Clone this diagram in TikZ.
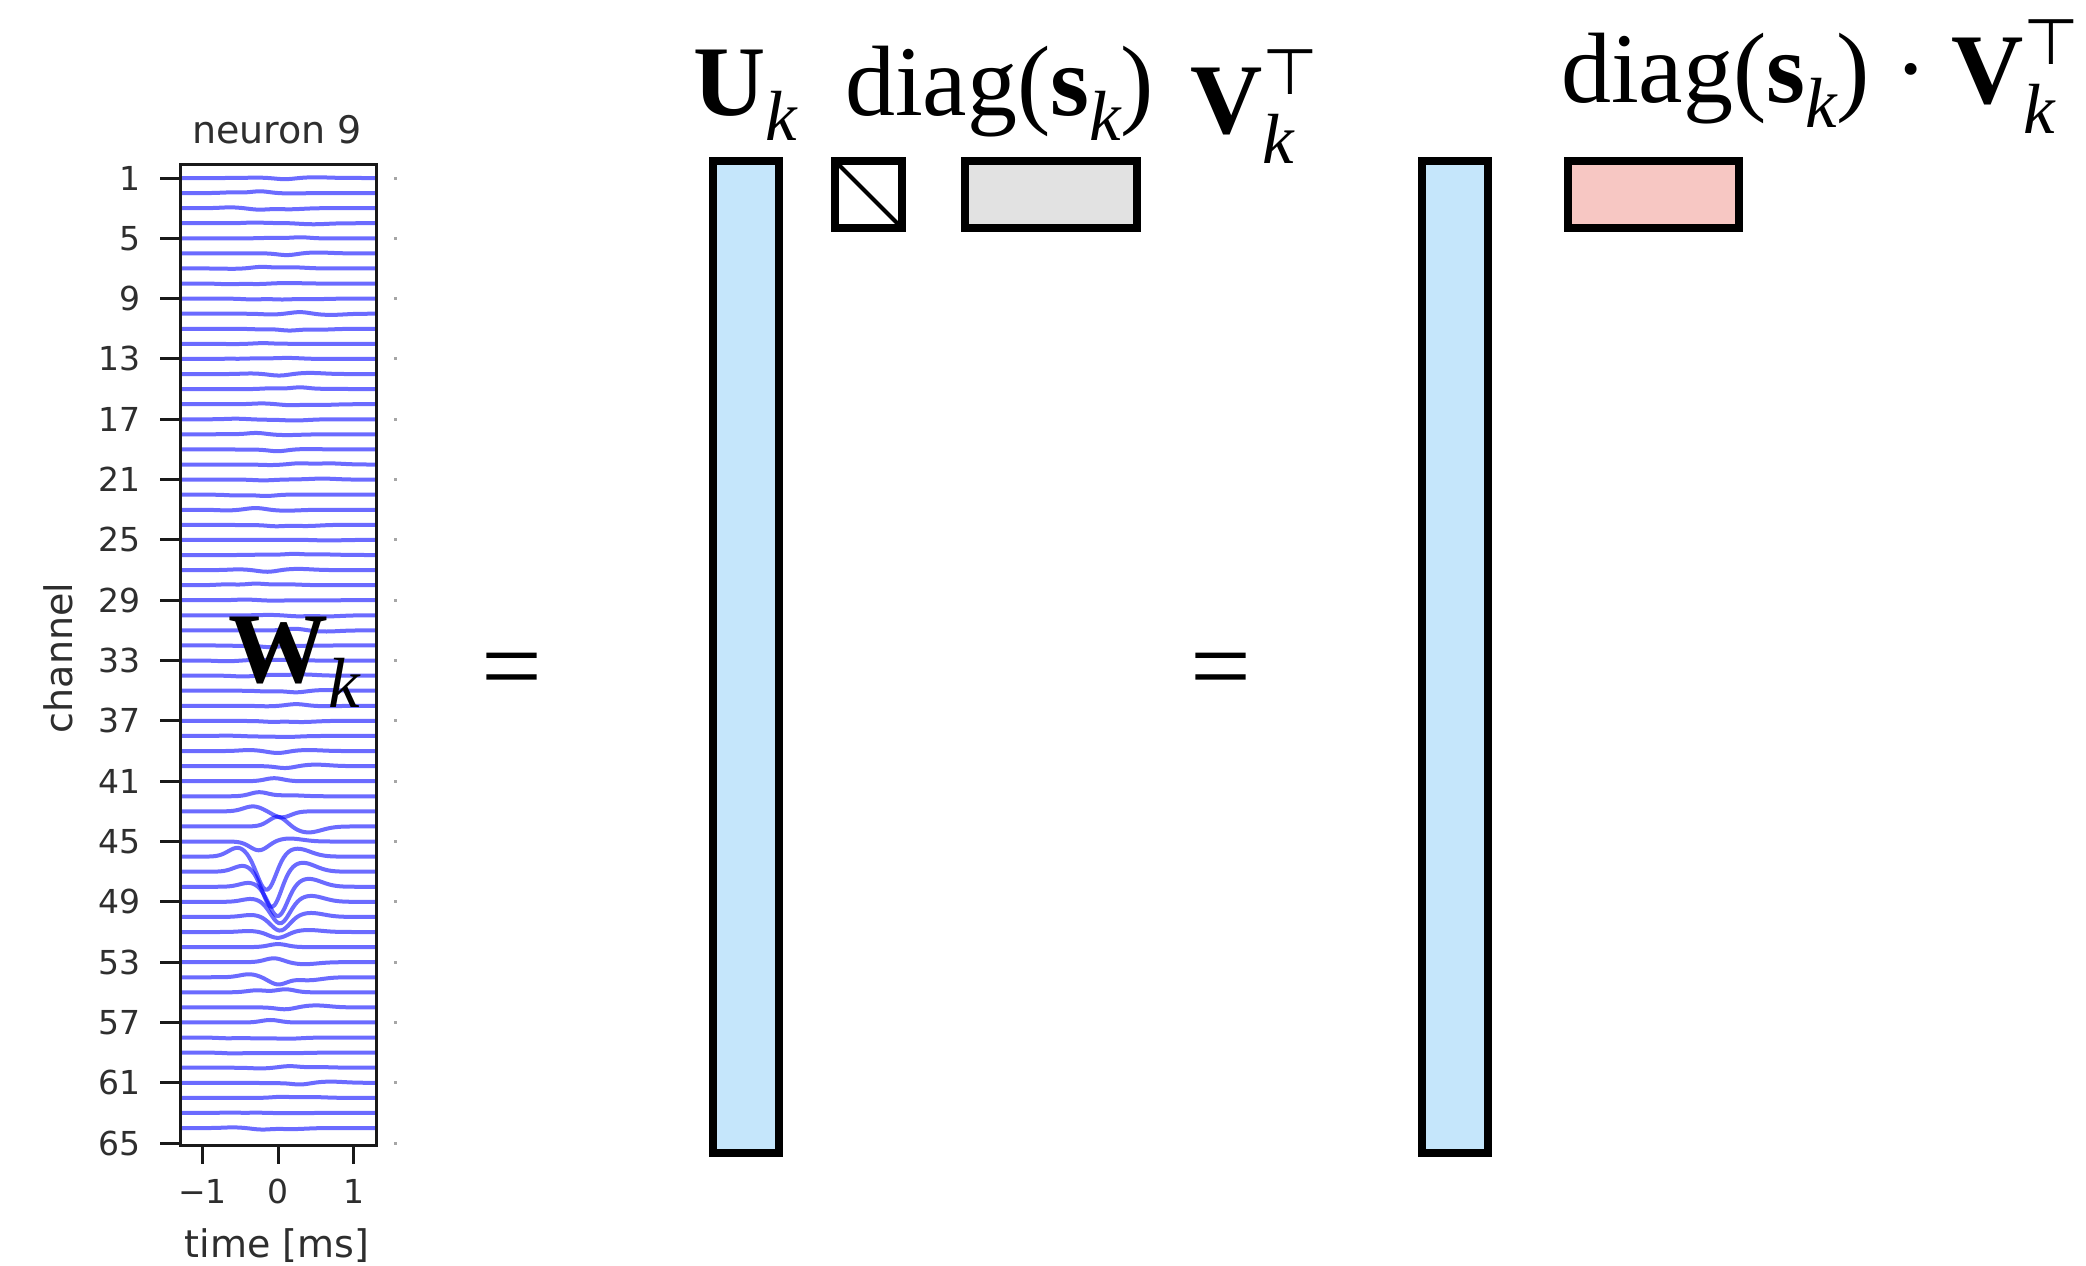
\documentclass[tikz,border=0pt]{standalone}
\usepackage{fontspec}
\setmainfont{Liberation Serif}
\newfontfamily\axfont{DejaVu Sans}
\definecolor{ublue}{HTML}{C5E6FB}
\definecolor{vgray}{HTML}{E2E2E2}
\definecolor{spink}{HTML}{F7C7C3}
\definecolor{axtext}{HTML}{2E2E2E}
\newcommand\mysubk[1]{\raisebox{-#1pt}{\fontsize{71}{71}\selectfont\itshape k}}
\newcommand\mytopsym{\raisebox{39pt}{\fontsize{64}{64}\selectfont\axfont ⊤}}
\begin{document}
\begin{tikzpicture}[x=1pt,y=-1pt,
  declare function={G(\u,\s)=exp(-min(30,(\u/\s)*(\u/\s)));},
  lab/.style={anchor=base west, inner sep=0pt, outer sep=0pt, font=\fontsize{100}{100}\selectfont},
  eqsign/.style={anchor=base, inner sep=0pt, outer sep=0pt, font=\fontsize{108}{108}\selectfont},
  matbox/.style={draw=black, line width=8pt, inner sep=0pt, outer sep=0pt},
  ytl/.style={anchor=east, inner sep=0pt, text=axtext, font=\axfont\fontsize{33}{33}\selectfont},
  xtl/.style={anchor=north, inner sep=0pt, text=axtext, font=\axfont\fontsize{33}{33}\selectfont},
  axlab/.style={inner sep=0pt, text=axtext, font=\axfont\fontsize{38}{38}\selectfont},
  trace/.style={draw=blue, opacity=0.58, line width=4pt, line join=round},
  axline/.style={draw=black!90, line width=3pt}
]
\useasboundingbox (0,0) rectangle (2086,1266);

% ---------------- waveform plot ----------------
\begin{scope}
\clip (180,164) rectangle (376,1145);
\foreach \c in {1,...,38,58,59,60,61,62,63,64}{
  \pgfmathsetmacro\yc{178+(\c-1)*15.08}
  \pgfmathsetmacro\pa{1.8*sin(\c*137)}
  \pgfmathsetmacro\ps{0.3*cos(\c*71)}
  \pgfmathsetmacro\pb{1.2*cos(\c*53)}
  \pgfmathsetmacro\pp{0.8*sin(\c*29)}
  \draw[trace] plot[domain=-1.35:1.35, samples=70, smooth]
    ({278+75.5*\x},{\yc+\pa*G(\x-\ps,0.17)-\pb*G(\x-\ps-0.4,0.25)-\pp*G(\x-\ps+0.38,0.18)});
}
\foreach \c/\pa/\ps/\pb/\pp in {39/2/0/1/1, 40/2/0.1/1.5/0, 41/-3/-0.05/0/0, 42/-4/-0.25/1/0,
  43/6/0.05/0/5, 44/-10/0/-6/0, 45/9/-0.25/3/0, 46/34/-0.15/8/9, 47/36/-0.08/9/6,
  48/30/0/8/4, 49/22/0.03/6/3, 50/14/0.03/4/2, 51/6/0/2/1, 52/-3/0/0/0, 53/-4/-0.05/-2/0,
  54/7/0/-3/3, 55/-3/0.1/0/2, 56/2/0.1/2/0, 57/-2.5/-0.1/0/0}{
  \pgfmathsetmacro\yc{178+(\c-1)*15.08}
  \draw[trace] plot[domain=-1.35:1.35, samples=90, smooth]
    ({278+75.5*\x},{\yc+\pa*G(\x-\ps,0.17)-\pb*G(\x-\ps-0.4,0.25)-\pp*G(\x-\ps+0.38,0.18)});
}
\end{scope}
\draw[axline] (180,164) rectangle (376,1145);
\foreach \v in {1,5,...,65}{
  \pgfmathsetmacro\yy{178+(\v-1)*15.08}
  \draw[axline] (160,\yy) -- (180,\yy);
  \node[ytl] at (141,\yy) {\v};
  \fill[black!35] (394,\yy-1.5) rectangle (397,\yy+1.5);
}
\foreach \t/\lbl in {-1/−1,0/0,1/1}{
  \draw[axline] ({278+75.5*\t},1145) -- ({278+75.5*\t},1164);
  \node[xtl] at ({278+75.5*\t},1179) {\lbl};
}
\node[axlab, anchor=base] (title) at (277,143) {neuron 9};
\node[axlab, anchor=base] (xlabel) at (277,1257) {time [ms]};
\node[axlab, rotate=90, anchor=center] (ylabel) at (58,658) {channel};

\node[lab] (Wlab) at (228,682) {\textbf{W}\mysubk{25}};

% ---------------- equals signs ----------------
\node[eqsign] (eq1) at (512,702) {=};
\node[eqsign] (eq2) at (1221,702) {=};

% ---------------- matrices ----------------
\node[matbox, fill=ublue, minimum width=66pt, minimum height=992pt] (U1) at (746,657) {};
\node[matbox, fill=white, minimum width=67pt, minimum height=67pt] (S1) at (868.5,194.5) {};
\draw[line width=4pt] (S1.north west) -- (S1.south east);
\node[matbox, fill=vgray, minimum width=172pt, minimum height=67pt] (V1) at (1051,194.5) {};
\node[matbox, fill=ublue, minimum width=66pt, minimum height=992pt] (U2) at (1455,657) {};
\node[matbox, fill=spink, minimum width=171pt, minimum height=67pt] (SV) at (1653.5,194.5) {};

% ---------------- labels ----------------
\node[lab] (Ulab) at (693,115) {\textbf{U}\mysubk{25}};
\node[lab] (Dlab) at (845,115) {diag(\textbf{s}\mysubk{25})};
\node[lab] (Vlab) at (1190,133) {\textbf{V}\rlap{\mytopsym}\mysubk{30}};
\node[lab] (Dlab2) at (1561,102) {diag(\textbf{s}\mysubk{25})};
\node[lab, anchor=base] (dotlab) at (1911,102) {·};
\node[lab] (Vlab2) at (1951,103) {\textbf{V}\rlap{\mytopsym}\mysubk{30}};
\end{tikzpicture}
\end{document}
